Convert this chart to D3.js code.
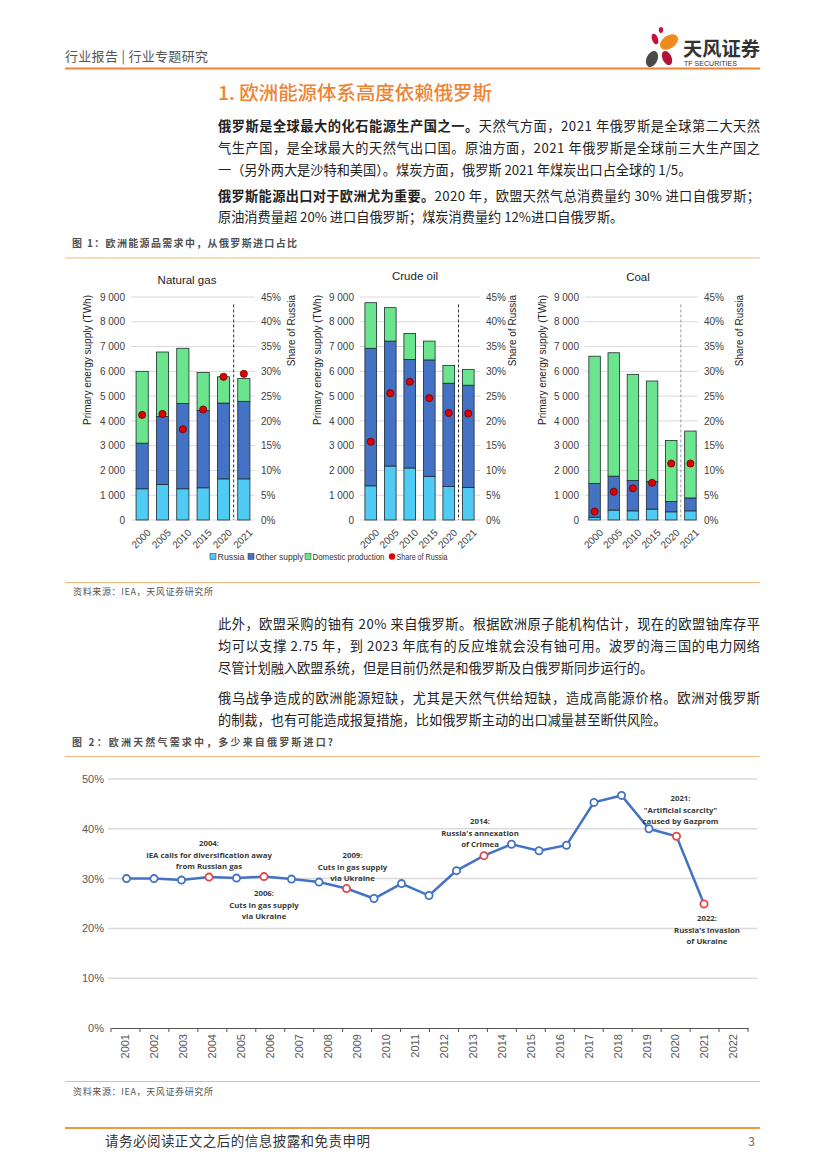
<!DOCTYPE html>
<html><head><meta charset="utf-8">
<script src="https://cdn.jsdelivr.net/npm/d3@7"></script>
<style>
html,body{margin:0;padding:0;background:#fff;}
svg{display:block;}
</style></head>
<body>
<svg id="page" width="827" height="1169"></svg>
<script>
// ---------- DATA ----------
const panelYears = ["2000","2005","2010","2015","2020","2021"];
const gasRussia   = [1260,1430,1260,1300,1660,1660];
const gasOther    = [1840,2750,3440,3120,3060,3130];
const gasDomestic = [2900,2600,2230,1530,1060,920];
const gasShare    = [21.2,21.4,18.3,22.3,28.9,29.5];

const oilRussia   = [1380,2180,2100,1760,1350,1310];
const oilOther    = [5550,5040,4380,4700,4170,4130];
const oilDomestic = [1840,1350,1050,760,720,640];
const oilShare    = [15.8,25.6,27.9,24.6,21.6,21.5];

const coalRussia   = [110,400,370,440,330,370];
const coalOther    = [1360,1370,1220,1110,420,520];
const coalDomestic = [5140,4980,4290,4060,2460,2700];
const coalShare    = [1.7,5.7,6.4,7.5,11.4,11.4];

const leftTicks  = [0,1000,2000,3000,4000,5000,6000,7000,8000,9000];
const rightTicks = [0,5,10,15,20,25,30,35,40,45];
const legendLabels = ["Russia","Other supply","Domestic production","Share of Russia"];

const gasYears = ["2001","2002","2003","2004","2005","2006","2007","2008","2009","2010","2011","2012","2013","2014","2015","2016","2017","2018","2019","2020","2021","2022"];
const gasImportShare = [30.0,30.0,29.7,30.3,30.1,30.4,29.9,29.3,28.0,26.0,29.0,26.6,31.6,34.6,36.9,35.6,36.7,45.3,46.7,40.0,38.5,24.9];
const highlightYears = ["2004","2006","2009","2014","2021","2022"];
const shareTicks = [0,10,20,30,40,50];
const annotations = [
  {year:"2004", lines:["2004:","IEA calls for diversification away","from Russian gas"], dx:0, y:843},
  {year:"2006", lines:["2006:","Cuts in gas supply","via Ukraine"], dx:0, y:893},
  {year:"2009", lines:["2009:","Cuts in gas supply","via Ukraine"], dx:6, y:855},
  {year:"2014", lines:["2014:","Russia's annexation","of Crimea"], dx:-4, y:821},
  {year:"2021", lines:["2021:","\"Artificial scarcity\"","caused by Gazprom"], dx:4, y:798},
  {year:"2022", lines:["2022:","Russia's invasion","of Ukraine"], dx:3, y:918}
];

// ---------- STYLE ----------
const ORANGE = "#EE8433";
const CJK = "'Noto Sans CJK SC','Noto Sans',sans-serif";
const ARIAL = "'Liberation Sans',Arial,sans-serif";
const colRussia = "#4FCBF4", colOther = "#4472C4", colDomestic = "#6AE58E", colShare = "#E00000";

const svg = d3.select("#page");

// ---------- HEADER ----------
svg.append("text").attr("x",65).attr("y",61).attr("font-family",CJK).attr("font-size",13)
  .attr("fill","#555").attr("textLength",143).attr("lengthAdjust","spacing").text("行业报告 | 行业专题研究");
svg.append("line").attr("x1",65).attr("x2",760).attr("y1",68.5).attr("y2",68.5)
  .attr("stroke",ORANGE).attr("stroke-width",2);
const logo = svg.append("g");
logo.append("ellipse").attr("cx",669).attr("cy",42).attr("rx",10).attr("ry",6.5).attr("transform","rotate(-35 669 42)").attr("fill","#F08A1C");
logo.append("ellipse").attr("cx",655).attr("cy",39).attr("rx",3).attr("ry",5.5).attr("transform","rotate(-20 655 39)").attr("fill","#C0143C");
logo.append("ellipse").attr("cx",661).attr("cy",30).attr("rx",2.2).attr("ry",3).attr("fill","#C0143C");
logo.append("ellipse").attr("cx",667).attr("cy",58).attr("rx",4.5).attr("ry",7.5).attr("transform","rotate(-25 667 58)").attr("fill","#B5123A");
logo.append("ellipse").attr("cx",652).attr("cy",59).attr("rx",5.5).attr("ry",8.5).attr("transform","rotate(25 652 59)").attr("fill","#4A4A4A");
svg.append("text").attr("x",683).attr("y",56).attr("font-family",CJK).attr("font-size",19).attr("font-weight","bold")
  .attr("fill","#333").attr("textLength",77).attr("lengthAdjust","spacingAndGlyphs").text("天风证券");
svg.append("text").attr("x",684).attr("y",66).attr("font-family",ARIAL).attr("font-size",7)
  .attr("fill","#333").attr("textLength",53).attr("lengthAdjust","spacingAndGlyphs").text("TF SECURITIES");

// ---------- TITLE & TEXT ----------
svg.append("text").attr("x",218).attr("y",100).attr("font-family",CJK).attr("font-size",19).attr("font-weight",500)
  .attr("fill",ORANGE).attr("textLength",274).attr("lengthAdjust","spacingAndGlyphs").text("1. 欧洲能源体系高度依赖俄罗斯");

function para(lines, x, ys, width){
  lines.forEach((ln,i)=>{
    const t = svg.append("text").attr("x",x).attr("y",ys[i]).attr("font-family",CJK)
      .attr("font-size",13.2).attr("fill","#222");
    if (ln.justify) t.attr("textLength",width).attr("lengthAdjust","spacing");
    ln.parts.forEach(p=>{
      t.append("tspan").attr("font-weight",p.b?"bold":"normal").text(p.t);
    });
  });
}
para([
  {justify:true, parts:[{b:true,t:"俄罗斯是全球最大的化石能源生产国之一。"},{t:"天然气方面，2021 年俄罗斯是全球第二大天然"}]},
  {justify:true, parts:[{t:"气生产国，是全球最大的天然气出口国。原油方面，2021 年俄罗斯是全球前三大生产国之"}]},
  {parts:[{t:"一（另外两大是沙特和美国）。煤炭方面，俄罗斯 2021 年煤炭出口占全球的 1/5。"}]}
],218,[131,153,175],542);
para([
  {justify:true, parts:[{b:true,t:"俄罗斯能源出口对于欧洲尤为重要。"},{t:"2020 年，欧盟天然气总消费量约 30% 进口自俄罗斯；"}]},
  {parts:[{t:"原油消费量超 20% 进口自俄罗斯；煤炭消费量约 12%进口自俄罗斯。"}]}
],218,[200.5,222],542);
para([
  {justify:true, parts:[{t:"此外，欧盟采购的铀有 20% 来自俄罗斯。根据欧洲原子能机构估计，现在的欧盟铀库存平"}]},
  {justify:true, parts:[{t:"均可以支撑 2.75 年，到 2023 年底有的反应堆就会没有铀可用。波罗的海三国的电力网络"}]},
  {parts:[{t:"尽管计划融入欧盟系统，但是目前仍然是和俄罗斯及白俄罗斯同步运行的。"}]}
],218,[629,651,673],542);
para([
  {justify:true, parts:[{t:"俄乌战争造成的欧洲能源短缺，尤其是天然气供给短缺，造成高能源价格。欧洲对俄罗斯"}]},
  {parts:[{t:"的制裁，也有可能造成报复措施，比如俄罗斯主动的出口减量甚至断供风险。"}]}
],218,[703,725],542);

function caption(txt, y, lineY, w){
  svg.append("text").attr("x",72).attr("y",y).attr("font-family",CJK).attr("font-size",10)
    .attr("font-weight","bold").attr("fill","#505050").attr("textLength",w).attr("lengthAdjust","spacing").text(txt);
  svg.append("line").attr("x1",65).attr("x2",760).attr("y1",lineY).attr("y2",lineY)
    .attr("stroke","#F5B77C").attr("stroke-width",1.2);
}
function source(y, lineY){
  svg.append("line").attr("x1",65).attr("x2",760).attr("y1",lineY).attr("y2",lineY)
    .attr("stroke","#F5B77C").attr("stroke-width",1.2);
  svg.append("text").attr("x",73).attr("y",y).attr("font-family",CJK).attr("font-size",9)
    .attr("fill","#555").attr("textLength",140).attr("lengthAdjust","spacing").text("资料来源：IEA，天风证券研究所");
}
caption("图 1：欧洲能源品需求中，从俄罗斯进口占比", 247, 258, 225);
source(595, 582.5);
caption("图 2：欧洲天然气需求中，多少来自俄罗斯进口?", 746, 756.5, 261);
source(1095, 1081.5);

svg.append("line").attr("x1",65).attr("x2",760).attr("y1",1128).attr("y2",1128)
  .attr("stroke","#EE9A3A").attr("stroke-width",2);
svg.append("text").attr("x",105).attr("y",1146).attr("font-family",CJK).attr("font-size",13.5)
  .attr("fill","#333").attr("textLength",265).attr("lengthAdjust","spacing").text("请务必阅读正文之后的信息披露和免责申明");
svg.append("text").attr("x",755).attr("y",1146).attr("text-anchor","end").attr("font-family",CJK).attr("font-size",12)
  .attr("fill","#666").text("3");

// ---------- FIGURE 1 PANELS ----------
const fmtTh = d => d===0 ? "0" : d3.format(",")(d).replace(/,/g," ");
function panel(cfg){
  const g = svg.append("g");
  const y = d3.scaleLinear().domain([0,9000]).range([520,297]);
  const yR = d3.scaleLinear().domain([0,45]).range([520,297]);
  const x = d3.scaleBand().domain(panelYears).range([cfg.bx0,cfg.bx1]).paddingInner(0.4).paddingOuter(0.2);
  g.selectAll(".grid").data(leftTicks).join("line")
    .attr("x1",cfg.gx0).attr("x2",cfg.gx1).attr("y1",d=>y(d)).attr("y2",d=>y(d))
    .attr("stroke","#D9D9D9").attr("stroke-width",1);
  const la = d3.axisLeft(y).tickValues(leftTicks).tickFormat(fmtTh).tickSize(0).tickPadding(6);
  g.append("g").attr("transform",`translate(${cfg.gx0},0)`).call(la)
    .call(s=>s.select(".domain").remove())
    .selectAll("text").attr("font-family",ARIAL).attr("font-size",10).attr("fill","#404040");
  const ra = d3.axisRight(yR).tickValues(rightTicks).tickFormat(d=>d+"%").tickSize(0).tickPadding(6);
  g.append("g").attr("transform",`translate(${cfg.gx1},0)`).call(ra)
    .call(s=>s.select(".domain").remove())
    .selectAll("text").attr("font-family",ARIAL).attr("font-size",10).attr("fill","#404040");
  const rows = panelYears.map((yr,i)=>({year:yr, russia:cfg.russia[i], other:cfg.other[i], domestic:cfg.domestic[i]}));
  const stack = d3.stack().keys(["russia","other","domestic"])(rows);
  const colors = {russia:colRussia, other:colOther, domestic:colDomestic};
  stack.forEach(layer=>{
    g.selectAll(null).data(layer).join("rect")
      .attr("x",d=>x(d.data.year)).attr("width",x.bandwidth())
      .attr("y",d=>y(d[1])).attr("height",d=>y(d[0])-y(d[1]))
      .attr("fill",colors[layer.key]).attr("stroke","#1F2A30").attr("stroke-width",0.8);
  });
  const xm = (x("2020")+x.bandwidth()/2 + x("2021")+x.bandwidth()/2)/2;
  g.append("line").attr("x1",xm).attr("x2",xm).attr("y1",y(8700)).attr("y2",y(0))
    .attr("stroke",cfg.dashColor).attr("stroke-width",1).attr("stroke-dasharray","3,2");
  g.selectAll(".dot").data(cfg.share).join("circle")
    .attr("cx",(d,i)=>x(panelYears[i])+x.bandwidth()/2).attr("cy",d=>yR(d)).attr("r",3.6)
    .attr("fill",colShare).attr("stroke","#500").attr("stroke-width",0.7);
  g.append("g").attr("transform",`translate(0,${y(0)})`)
    .call(d3.axisBottom(x).tickSize(0).tickPadding(4))
    .call(s=>s.select(".domain").remove())
    .selectAll("text").attr("font-family",ARIAL).attr("font-size",10).attr("fill","#404040")
    .attr("text-anchor","end").attr("dy","0.35em")
    .attr("transform","translate(4,8) rotate(-45)");
  g.append("text").attr("x",cfg.titleX).attr("y",cfg.titleY).attr("text-anchor","middle")
    .attr("font-family",ARIAL).attr("font-size",11.5).attr("fill","#222").text(cfg.title);
  g.append("text").attr("transform",`translate(${cfg.ltX},360) rotate(-90)`).attr("text-anchor","middle")
    .attr("font-family",ARIAL).attr("font-size",10).attr("fill","#222").text("Primary energy supply (TWh)");
  g.append("text").attr("transform",`translate(${cfg.rtX},295) rotate(-90)`).attr("text-anchor","end")
    .attr("font-family",ARIAL).attr("font-size",10).attr("fill","#222").text("Share of Russia");
}
panel({title:"Natural gas", titleX:187, titleY:284, gx0:131, gx1:255, bx0:132, bx1:254, ltX:91, rtX:295,
  russia:gasRussia, other:gasOther, domestic:gasDomestic, share:gasShare, dashColor:"#333"});
panel({title:"Crude oil", titleX:415, titleY:280, gx0:360, gx1:480, bx0:361, bx1:478, ltX:321, rtX:516,
  russia:oilRussia, other:oilOther, domestic:oilDomestic, share:oilShare, dashColor:"#333"});
panel({title:"Coal", titleX:638, titleY:281, gx0:585, gx1:698, bx0:585, bx1:700, ltX:546, rtX:743,
  russia:coalRussia, other:coalOther, domestic:coalDomestic, share:coalShare, dashColor:"#999"});

const legX = [213, 251, 308, 392];
const legW = [27, 48, 72, 51];
const legColors = [colRussia, colOther, colDomestic, colShare];
const lg = svg.append("g");
legendLabels.forEach((lab,i)=>{
  if (i<3) lg.append("rect").attr("x",legX[i]-3).attr("y",553.5).attr("width",6).attr("height",6)
    .attr("fill",legColors[i]).attr("stroke","#333").attr("stroke-width",0.5);
  else lg.append("circle").attr("cx",legX[i]).attr("cy",556.5).attr("r",3.2).attr("fill",colShare);
  lg.append("text").attr("x",legX[i]+4.5).attr("y",560).attr("font-family",ARIAL).attr("font-size",9.5)
    .attr("fill","#333").attr("textLength",legW[i]).attr("lengthAdjust","spacingAndGlyphs").text(lab);
});

// ---------- FIGURE 2 ----------
const g2 = svg.append("g");
const y2 = d3.scaleLinear().domain([0,50]).range([1028,779]);
const xAx = d3.scaleBand().domain(gasYears).range([111,748]);
const xPt = d3.scalePoint().domain(gasYears).range([126.5,704]);
g2.selectAll(".g").data(shareTicks.slice(1)).join("line")
  .attr("x1",108).attr("x2",757).attr("y1",d=>y2(d)).attr("y2",d=>y2(d))
  .attr("stroke","#DADADA").attr("stroke-width",1.5);
g2.append("g").attr("transform","translate(104,0)")
  .call(d3.axisLeft(y2).tickValues(shareTicks).tickFormat(d=>d+"%").tickSize(0).tickPadding(0))
  .call(s=>s.select(".domain").remove())
  .selectAll("text").attr("font-family",ARIAL).attr("font-size",11).attr("fill","#595959");
const xa = g2.append("g").attr("transform","translate(0,1028)")
  .call(d3.axisBottom(xAx).tickSize(0).tickPadding(0));
xa.select(".domain").attr("stroke","#555").attr("stroke-width",1.2);
xa.selectAll("text").attr("font-family",ARIAL).attr("font-size",11).attr("fill","#595959")
  .attr("text-anchor","end").attr("dy","0.35em").attr("transform","translate(0,6) rotate(-90)");
g2.selectAll(".tk").data(gasYears.concat(["end"])).join("line")
  .attr("x1",(d,i)=>111+i*xAx.step()).attr("x2",(d,i)=>111+i*xAx.step())
  .attr("y1",1028).attr("y2",1032).attr("stroke","#555").attr("stroke-width",1);
const pts = gasYears.map((yr,i)=>({year:yr, v:gasImportShare[i]}));
g2.append("path").datum(pts)
  .attr("d",d3.line().x(d=>xPt(d.year)).y(d=>y2(d.v)))
  .attr("fill","none").attr("stroke","#4472C4").attr("stroke-width",2.5);
g2.selectAll(".pt").data(pts).join("circle")
  .attr("cx",d=>xPt(d.year)).attr("cy",d=>y2(d.v)).attr("r",3.6)
  .attr("fill","#fff").attr("stroke",d=>highlightYears.includes(d.year)?"#E0474C":"#4472C4").attr("stroke-width",1.8);
annotations.forEach(a=>{
  const t = g2.append("text").attr("font-family","'Open Sans','Noto Sans',sans-serif").attr("font-size",7.8)
    .attr("font-weight","bold").attr("fill","#3a3a3a").attr("text-anchor","middle");
  a.lines.forEach((ln,i)=>{
    t.append("tspan").attr("x",xPt(a.year)+a.dx).attr("y",a.y+3+i*11.5).text(ln);
  });
});
</script>
</body></html>
